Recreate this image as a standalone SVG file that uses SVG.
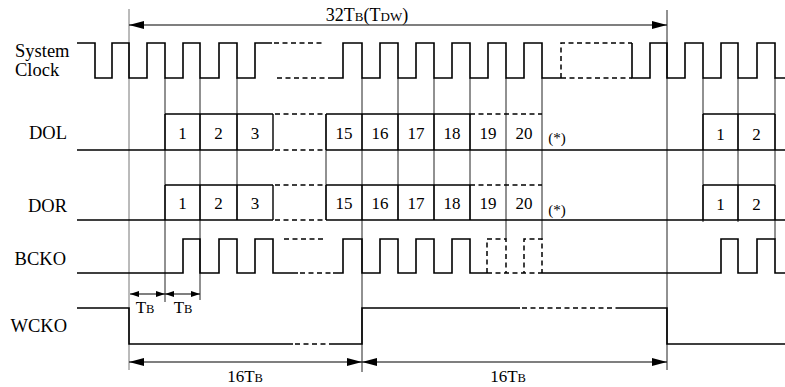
<svg xmlns="http://www.w3.org/2000/svg" width="785" height="387" viewBox="0 0 785 387">
<defs>
<style>
.sig{fill:none;stroke:#000;stroke-width:1.6;stroke-linejoin:miter}
.dash{fill:none;stroke:#000;stroke-width:1.5;stroke-dasharray:5 3.5}
.grid{fill:none;stroke:#222;stroke-width:1}
.lgrid{fill:none;stroke:#777;stroke-width:1}
.box{fill:none;stroke:#000;stroke-width:1.4}
.dim{fill:none;stroke:#000;stroke-width:1.1}
.lbl{font-family:"Liberation Serif",serif;font-size:18.5px;fill:#000}
.num{font-family:"Liberation Serif",serif;font-size:17px;fill:#000;text-anchor:middle}
.ast{font-size:15px}
.dimt{font-family:"Liberation Serif",serif;font-size:17px;fill:#000;text-anchor:middle}
.sm{font-size:12.5px}
</style>
<marker id="ah" viewBox="0 0 15 8" refX="15" refY="4" markerWidth="15" markerHeight="8" markerUnits="userSpaceOnUse" orient="auto-start-reverse"><path d="M0,0 L15,4 L0,8 Z" fill="#000"/></marker>
<marker id="ahs" viewBox="0 0 9 6" refX="9" refY="3" markerWidth="9" markerHeight="6" markerUnits="userSpaceOnUse" orient="auto-start-reverse"><path d="M0,0 L9,3 L0,6 Z" fill="#000"/></marker>
</defs>
<rect width="785" height="387" fill="#fff"/>

<g id="labels">
<text class="lbl" x="15" y="57">System</text>
<text class="lbl" x="15" y="76">Clock</text>
<text class="lbl" x="67" y="139" text-anchor="end">DOL</text>
<text class="lbl" x="67" y="212" text-anchor="end">DOR</text>
<text class="lbl" x="66" y="265" text-anchor="end">BCKO</text>
<text class="lbl" x="67" y="332" text-anchor="end">WCKO</text>
</g>

<g id="connectors">
<g id="grid">
<path class="lgrid" d="M129,9 V370"/>
<path class="grid" d="M165,78 V302 M200,78 V300 M237,78 V220 M326,114 V220 M362,78 V372 M398,78 V220 M434,78 V220 M470,78 V220 M506,78 V239 M542,78 V239 M667,10 V370 M703,78 V222 M738,78 V222 M775,78 V239"/>
</g>
<g id="dimensions">
<path class="dim" d="M129,25 H667" marker-start="url(#ah)" marker-end="url(#ah)"/>
<path class="dim" d="M130,294 H165" marker-start="url(#ahs)" marker-end="url(#ahs)"/>
<path class="dim" d="M165,294 H200" marker-start="url(#ahs)" marker-end="url(#ahs)"/>
<path class="dim" d="M129,362 H362" marker-start="url(#ah)" marker-end="url(#ah)"/>
<path class="dim" d="M362,362 H667" marker-start="url(#ah)" marker-end="url(#ah)"/>
</g>
</g>

<g id="system-clock">
<path class="sig" d="M77,43 H95 V78 H112 V43 H129 V78 H147 V43 H165 V78 H183 V43 H200 V78 H219 V43 H237 V78 H255 V43 H272"/>
<path class="dash" d="M274,43 H325 M277,78 H330"/>
<path class="sig" d="M330,78 H343 V43 H362 V78 H380 V43 H398 V78 H416 V43 H434 V78 H452 V43 H470 V78 H488 V43 H506 V78 H524 V43 H542 V78 H561"/>
<path class="dash" d="M561,78 V43 H632 M561,78 H632"/>
<path class="sig" d="M632,43 V78 H650 V43 H667 V78 H685 V43 H703 V78 H721 V43 H738 V78 H757 V43 H775 V78 H785"/>
</g>

<g id="dol">
<path class="sig" d="M77,150 H273 M326,150 H785"/>
<path class="dash" d="M275,150 H326"/>
<path class="box" d="M165,114 H273 M326,114 H470 M703,114 H775 M165,114 V150 M200,114 V150 M237,114 V150 M273,114 V150 M326,114 V150 M362,114 V150 M398,114 V150 M434,114 V150 M470,114 V150 M703,114 V150 M738,114 V150 M775,114 V150"/>
<path class="dash" d="M275,114 H326 M470,114 H542"/>
<text class="num" x="182.5" y="139">1</text>
<text class="num" x="218.5" y="139">2</text>
<text class="num" x="255" y="139">3</text>
<text class="num" x="344" y="139">15</text>
<text class="num" x="380" y="139">16</text>
<text class="num" x="416" y="139">17</text>
<text class="num" x="452" y="139">18</text>
<text class="num" x="488" y="139">19</text>
<text class="num" x="524" y="139">20</text>
<text class="num ast" x="557" y="143">(*)</text>
<text class="num" x="720.5" y="140">1</text>
<text class="num" x="756.5" y="140">2</text>
</g>

<g id="dor">
<path class="sig" d="M77,220 H273 M326,220 H785"/>
<path class="dash" d="M275,220 H326"/>
<path class="box" d="M165,185 H273 M326,185 H470 M703,185 H775 M165,185 V220 M200,185 V220 M237,185 V220 M273,185 V220 M326,185 V220 M362,185 V220 M398,185 V220 M434,185 V220 M470,185 V220 M703,185 V220 M738,185 V220 M775,185 V220"/>
<path class="dash" d="M275,185 H326 M470,185 H542"/>
<text class="num" x="182.5" y="209">1</text>
<text class="num" x="218.5" y="209">2</text>
<text class="num" x="255" y="209">3</text>
<text class="num" x="344" y="209">15</text>
<text class="num" x="380" y="209">16</text>
<text class="num" x="416" y="209">17</text>
<text class="num" x="452" y="209">18</text>
<text class="num" x="488" y="209">19</text>
<text class="num" x="524" y="209">20</text>
<text class="num ast" x="557" y="215">(*)</text>
<text class="num" x="720.5" y="210">1</text>
<text class="num" x="756.5" y="210">2</text>
</g>

<g id="bcko">
<path class="sig" d="M77,273 H183 V239 H200 V273 H219 V239 H237 V273 H255 V239 H273 V273 H298"/>
<path class="dash" d="M300,273 H333 M284,239 H325"/>
<path class="sig" d="M333,273 H343 V239 H362 V273 H380 V239 H398 V273 H416 V239 H434 V273 H452 V239 H470 V273 H487"/>
<path class="dash" d="M487,273 V239 H506 V273 H524 V239 H542 V273 M487,273 H542"/>
<path class="sig" d="M542,273 H721 V239 H738 V273 H757 V239 H775 V273 H785"/>
</g>

<g id="wcko">
<path class="sig" d="M77,308 H129 V344 H293 M330,344 H362 V308 H520 M620,308 H667 V344 H785"/>
<path class="dash" d="M295,344 H330 M522,308 H620"/>
</g>

<g id="dimension-labels">
<text class="dimt" x="367" y="21" style="font-size:18px">32T<tspan style="font-size:13px">B</tspan>(T<tspan style="font-size:13px">DW</tspan>)</text>
<text class="dimt" x="145" y="313">T<tspan class="sm">B</tspan></text>
<text class="dimt" x="183" y="313">T<tspan class="sm">B</tspan></text>
<text class="dimt" x="245" y="382">16T<tspan class="sm">B</tspan></text>
<text class="dimt" x="508" y="382">16T<tspan class="sm">B</tspan></text>
</g>
</svg>
